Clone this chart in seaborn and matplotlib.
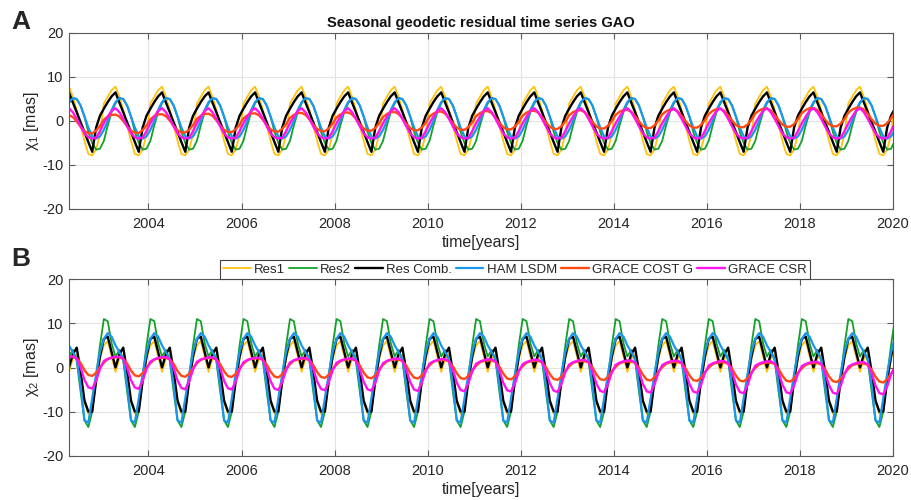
import numpy as np
import pandas as pd
import matplotlib
matplotlib.use("Agg")
import matplotlib.pyplot as plt
import seaborn as sns

# ---------------- data ----------------
# monthly seasonal pattern (Jan..Dec), mas
series_names = ["Res1", "Res2", "Res Comb.", "HAM LSDM", "GRACE COST G", "GRACE CSR"]
series_colors = ["#FFC20E", "#14A02A", "#000000", "#1A96EE", "#FF4A12", "#FF14F0"]

# Panel A (chi_1)
A_res1 = [4.0, 5.5, 7.0, 7.8, 5.5, 2.5, -1.0, -4.5, -7.5, -7.8, -6.5, -3.0]
A_res2 = [-4.5, -1.0, 2.0, 4.0, 5.2, 5.0, 3.5, 1.0, -2.5, -5.0, -6.5, -6.3]
A_comb = [2.8, 4.3, 5.6, 6.5, 4.2, 2.0, -0.3, -2.5, -4.8, -7.0, -1.5, 1.2]
A_ham = [-2.0, 0.0, 2.5, 4.3, 5.2, 5.0, 3.5, 1.0, -1.5, -3.5, -4.0, -3.5]
A_costg = [0.2, 0.9, 1.3, 1.35, 0.9, -0.1, -1.3, -2.3, -2.8, -2.8, -2.2, -1.1]
A_csr = [-0.5, 1.0, 2.3, 2.9, 2.0, 0.5, -1.2, -2.8, -3.7, -4.0, -3.8, -2.3]

# Panel B (chi_2)
B_res1 = [5.0, 6.0, 2.5, -1.0, 2.0, 3.0, -2.0, -8.0, -10.5, -9.0, -3.5, 2.0]
B_res2 = [11.0, 10.5, 5.5, 2.5, 4.0, 1.5, -5.5, -12.0, -13.5, -10.0, -2.0, 5.0]
B_comb = [6.5, 7.0, 3.5, 0.0, 3.0, 4.5, -1.0, -7.5, -10.0, -10.0, -3.0, 2.5]
B_ham = [6.5, 7.8, 7.0, 5.0, 3.5, 2.0, -4.0, -12.0, -12.5, -7.0, -1.5, 3.5]
B_costg = [1.2, 2.0, 2.3, 2.4, 2.4, 2.1, 1.0, -0.6, -1.7, -1.9, -1.2, 0.1]
B_csr = [1.5, 2.0, 2.3, 2.5, 2.5, 2.0, 0.0, -2.8, -4.5, -4.8, -3.0, -0.3]

# yearly level shifts (2002..2020) for the GRACE series
years = list(range(2002, 2021))
A_costg_shift = [0.0, 0.1, 0.2, 0.3, 0.4, 0.5, 0.6, 0.7, 0.8, 0.9, 1.0, 1.1, 1.2, 1.3, 1.4, 1.5, 1.6, 1.7, 1.75]
B_costg_shift = [0.0, -0.1, -0.2, -0.25, -0.35, -0.45, -0.55, -0.6, -0.7, -0.8, -0.9, -0.95, -1.05, -1.15, -1.25, -1.3, -1.4, -1.5, -1.5]
B_csr_shift = [0.0, -0.05, -0.15, -0.2, -0.3, -0.35, -0.45, -0.5, -0.6, -0.65, -0.75, -0.8, -0.9, -0.95, -1.05, -1.1, -1.2, -1.3, -1.3]
zero_shift = [0.0] * len(years)

first_month = (2002, 4)   # April 2002
last_month = (2020, 1)    # January 2020

xticks = [2004, 2006, 2008, 2010, 2012, 2014, 2016, 2018, 2020]
yticks = [-20, -10, 0, 10, 20]


def build(patterns, shifts):
    rows = []
    for name, pat, shf in zip(series_names, patterns, shifts):
        for yi, yr in enumerate(years):
            for m in range(1, 13):
                if (yr, m) < first_month or (yr, m) > last_month:
                    continue
                rows.append({"series": name,
                             "year": yr + (m - 0.5) / 12.0,
                             "value": pat[m - 1] + shf[yi]})
    return pd.DataFrame(rows)


dfA = build([A_res1, A_res2, A_comb, A_ham, A_costg, A_csr],
            [zero_shift, zero_shift, zero_shift, zero_shift, A_costg_shift, zero_shift])
dfB = build([B_res1, B_res2, B_comb, B_ham, B_costg, B_csr],
            [zero_shift, zero_shift, zero_shift, zero_shift, B_costg_shift, B_csr_shift])

# ---------------- style ----------------
sns.set_theme(style="white")
plt.rcParams["font.family"] = ["Liberation Sans", "DejaVu Sans"]
plt.rcParams["mathtext.fontset"] = "custom"
plt.rcParams["mathtext.rm"] = "Liberation Sans"
plt.rcParams["mathtext.it"] = "Liberation Sans"
plt.rcParams["axes.unicode_minus"] = False

fig = plt.figure(figsize=(9.11, 5.0), dpi=100)
axA = fig.add_axes([0.0757, 0.582, 0.9045, 0.352])
axB = fig.add_axes([0.0757, 0.0886, 0.9045, 0.3528])

widths = [1.3, 1.3, 1.7, 1.6, 1.7, 1.7]
spine_c = "#5a5a5a"

for ax, df, ylab in [(axA, dfA, r"$\chi_1$ [mas]"), (axB, dfB, r"$\chi_2$ [mas]")]:
    for name, col, lw in zip(series_names, series_colors, widths):
        sns.lineplot(data=df[df["series"] == name], x="year", y="value",
                     color=col, linewidth=lw, ax=ax, label=name,
                     errorbar=None, legend=False)
    ax.set_xlim(2002 + 3.5 / 12, 2020)
    ax.set_ylim(-20, 20)
    ax.set_xticks(xticks)
    ax.set_yticks(yticks)
    ax.grid(True, color="#e3e3e3", linewidth=0.8)
    ax.set_axisbelow(True)
    for s in ax.spines.values():
        s.set_visible(True)
        s.set_color(spine_c)
        s.set_linewidth(0.8)
    ax.tick_params(axis="both", direction="in", length=4.5, width=0.8,
                   color=spine_c, labelsize=10.5, labelcolor="#262626",
                   top=True, right=True, bottom=True, left=True)
    ax.tick_params(axis="x", pad=6)
    ax.tick_params(axis="y", pad=4)
    ax.set_xlabel("time[years]", fontsize=11.5, color="#262626", labelpad=3)
    ax.set_ylabel(ylab, fontsize=11.5, color="#262626", labelpad=1)

axA.set_title("Seasonal geodetic residual time series GAO", fontsize=10.5,
              fontweight="bold", color="#111111", pad=4)

leg = axB.legend(loc="lower center", bbox_to_anchor=(0.541, 1.0), ncol=6,
                 fontsize=9.5, handlelength=2.1, handletextpad=0.25,
                 columnspacing=0.3, borderpad=0.25, borderaxespad=0.0,
                 frameon=True, fancybox=False, framealpha=1.0)
leg.get_frame().set_edgecolor("#444444")
leg.get_frame().set_linewidth(0.8)

fig.text(0.012, 0.956, "A", fontsize=19, fontweight="bold", va="center", ha="left")
fig.text(0.012, 0.482, "B", fontsize=19, fontweight="bold", va="center", ha="left")

fig.savefig("out.png", dpi=100)
